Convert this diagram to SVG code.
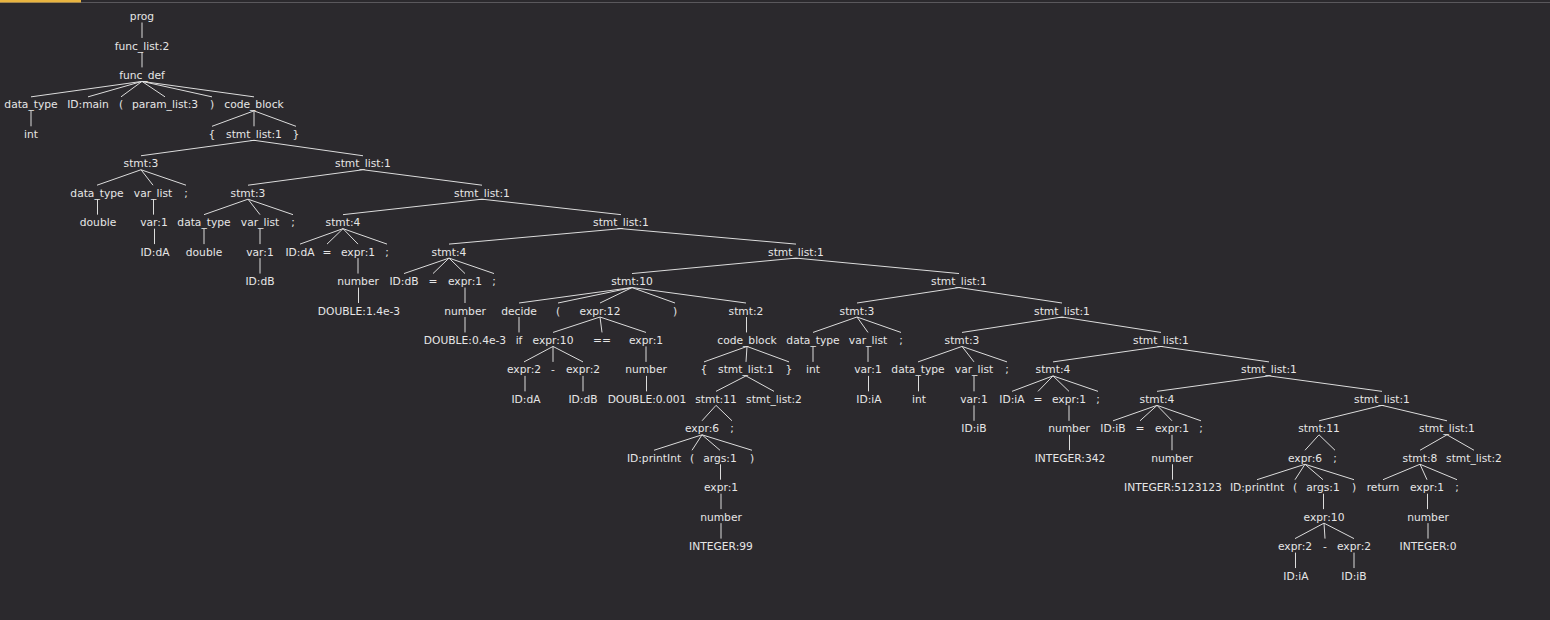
<svg xmlns="http://www.w3.org/2000/svg" width="1550" height="620" viewBox="0 0 1550 620">
<style>
.t{font-family:"DejaVu Sans",sans-serif;font-size:10.7px;fill:#e6e6e6;text-anchor:middle}
#edges line{stroke:#dcdcdc;stroke-width:1}
</style>
<rect x="0" y="0" width="1550" height="620" fill="#2b292d"/>
<line x1="0" y1="2.5" x2="1550" y2="2.5" stroke="#5a585c" stroke-width="1"/>
<rect x="0" y="0" width="81" height="2.5" fill="#e9b440"/>
<g id="edges">
<line x1="142" y1="22.5" x2="142" y2="37.95"/>
<line x1="142" y1="51.95" x2="142" y2="67.4"/>
<line x1="142" y1="81.4" x2="31" y2="96.85"/>
<line x1="142" y1="81.4" x2="88" y2="96.85"/>
<line x1="142" y1="81.4" x2="121" y2="96.85"/>
<line x1="142" y1="81.4" x2="165" y2="96.85"/>
<line x1="142" y1="81.4" x2="212" y2="96.85"/>
<line x1="142" y1="81.4" x2="254" y2="96.85"/>
<line x1="31" y1="110.85" x2="31" y2="126.3"/>
<line x1="254" y1="110.85" x2="212" y2="126.3"/>
<line x1="254" y1="110.85" x2="254" y2="126.3"/>
<line x1="254" y1="110.85" x2="296" y2="126.3"/>
<line x1="254" y1="140.3" x2="141" y2="155.75"/>
<line x1="254" y1="140.3" x2="363" y2="155.75"/>
<line x1="141" y1="169.75" x2="97" y2="185.2"/>
<line x1="141" y1="169.75" x2="153" y2="185.2"/>
<line x1="141" y1="169.75" x2="186" y2="185.2"/>
<line x1="363" y1="169.75" x2="248" y2="185.2"/>
<line x1="363" y1="169.75" x2="482" y2="185.2"/>
<line x1="97.5" y1="199.2" x2="97.5" y2="214.65"/>
<line x1="153.5" y1="199.2" x2="153.5" y2="214.65"/>
<line x1="248" y1="199.2" x2="204" y2="214.65"/>
<line x1="248" y1="199.2" x2="260" y2="214.65"/>
<line x1="248" y1="199.2" x2="293" y2="214.65"/>
<line x1="482" y1="199.2" x2="343" y2="214.65"/>
<line x1="482" y1="199.2" x2="621" y2="214.65"/>
<line x1="154.5" y1="228.65" x2="154.5" y2="244.1"/>
<line x1="204" y1="228.65" x2="204" y2="244.1"/>
<line x1="260" y1="228.65" x2="260" y2="244.1"/>
<line x1="343" y1="228.65" x2="300" y2="244.1"/>
<line x1="343" y1="228.65" x2="327" y2="244.1"/>
<line x1="343" y1="228.65" x2="358" y2="244.1"/>
<line x1="343" y1="228.65" x2="387" y2="244.1"/>
<line x1="621" y1="228.65" x2="449" y2="244.1"/>
<line x1="621" y1="228.65" x2="796" y2="244.1"/>
<line x1="260" y1="258.1" x2="260" y2="273.55"/>
<line x1="358" y1="258.1" x2="358" y2="273.55"/>
<line x1="449" y1="258.1" x2="404" y2="273.55"/>
<line x1="449" y1="258.1" x2="433" y2="273.55"/>
<line x1="449" y1="258.1" x2="465" y2="273.55"/>
<line x1="449" y1="258.1" x2="494" y2="273.55"/>
<line x1="796" y1="258.1" x2="632" y2="273.55"/>
<line x1="796" y1="258.1" x2="959" y2="273.55"/>
<line x1="358.5" y1="287.55" x2="358.5" y2="303"/>
<line x1="465" y1="287.55" x2="465" y2="303"/>
<line x1="632" y1="287.55" x2="519" y2="303"/>
<line x1="632" y1="287.55" x2="558" y2="303"/>
<line x1="632" y1="287.55" x2="600" y2="303"/>
<line x1="632" y1="287.55" x2="675" y2="303"/>
<line x1="632" y1="287.55" x2="746" y2="303"/>
<line x1="959" y1="287.55" x2="857" y2="303"/>
<line x1="959" y1="287.55" x2="1062" y2="303"/>
<line x1="465" y1="317" x2="465" y2="332.45"/>
<line x1="519" y1="317" x2="519" y2="332.45"/>
<line x1="600" y1="317" x2="553" y2="332.45"/>
<line x1="600" y1="317" x2="602" y2="332.45"/>
<line x1="600" y1="317" x2="646" y2="332.45"/>
<line x1="746.5" y1="317" x2="746.5" y2="332.45"/>
<line x1="857" y1="317" x2="813" y2="332.45"/>
<line x1="857" y1="317" x2="868" y2="332.45"/>
<line x1="857" y1="317" x2="901" y2="332.45"/>
<line x1="1062" y1="317" x2="962" y2="332.45"/>
<line x1="1062" y1="317" x2="1161" y2="332.45"/>
<line x1="553" y1="346.45" x2="524" y2="361.9"/>
<line x1="553" y1="346.45" x2="553" y2="361.9"/>
<line x1="553" y1="346.45" x2="583" y2="361.9"/>
<line x1="646" y1="346.45" x2="646" y2="361.9"/>
<line x1="747" y1="346.45" x2="704" y2="361.9"/>
<line x1="747" y1="346.45" x2="746" y2="361.9"/>
<line x1="747" y1="346.45" x2="789" y2="361.9"/>
<line x1="813" y1="346.45" x2="813" y2="361.9"/>
<line x1="868" y1="346.45" x2="868" y2="361.9"/>
<line x1="962" y1="346.45" x2="918" y2="361.9"/>
<line x1="962" y1="346.45" x2="974" y2="361.9"/>
<line x1="962" y1="346.45" x2="1007" y2="361.9"/>
<line x1="1161" y1="346.45" x2="1053" y2="361.9"/>
<line x1="1161" y1="346.45" x2="1269" y2="361.9"/>
<line x1="525" y1="375.9" x2="525" y2="391.35"/>
<line x1="583" y1="375.9" x2="583" y2="391.35"/>
<line x1="646.5" y1="375.9" x2="646.5" y2="391.35"/>
<line x1="746" y1="375.9" x2="716" y2="391.35"/>
<line x1="746" y1="375.9" x2="774" y2="391.35"/>
<line x1="868.5" y1="375.9" x2="868.5" y2="391.35"/>
<line x1="918.5" y1="375.9" x2="918.5" y2="391.35"/>
<line x1="974" y1="375.9" x2="974" y2="391.35"/>
<line x1="1053" y1="375.9" x2="1012" y2="391.35"/>
<line x1="1053" y1="375.9" x2="1038" y2="391.35"/>
<line x1="1053" y1="375.9" x2="1069" y2="391.35"/>
<line x1="1053" y1="375.9" x2="1098" y2="391.35"/>
<line x1="1269" y1="375.9" x2="1157" y2="391.35"/>
<line x1="1269" y1="375.9" x2="1382" y2="391.35"/>
<line x1="716" y1="405.35" x2="702" y2="420.8"/>
<line x1="716" y1="405.35" x2="732" y2="420.8"/>
<line x1="974" y1="405.35" x2="974" y2="420.8"/>
<line x1="1069" y1="405.35" x2="1069" y2="420.8"/>
<line x1="1157" y1="405.35" x2="1113" y2="420.8"/>
<line x1="1157" y1="405.35" x2="1140" y2="420.8"/>
<line x1="1157" y1="405.35" x2="1172" y2="420.8"/>
<line x1="1157" y1="405.35" x2="1201" y2="420.8"/>
<line x1="1382" y1="405.35" x2="1319" y2="420.8"/>
<line x1="1382" y1="405.35" x2="1447" y2="420.8"/>
<line x1="702" y1="434.8" x2="654" y2="450.25"/>
<line x1="702" y1="434.8" x2="692" y2="450.25"/>
<line x1="702" y1="434.8" x2="720" y2="450.25"/>
<line x1="702" y1="434.8" x2="752" y2="450.25"/>
<line x1="1069.5" y1="434.8" x2="1069.5" y2="450.25"/>
<line x1="1172" y1="434.8" x2="1172" y2="450.25"/>
<line x1="1319" y1="434.8" x2="1305" y2="450.25"/>
<line x1="1319" y1="434.8" x2="1335" y2="450.25"/>
<line x1="1447" y1="434.8" x2="1420" y2="450.25"/>
<line x1="1447" y1="434.8" x2="1474" y2="450.25"/>
<line x1="720.5" y1="464.25" x2="720.5" y2="479.7"/>
<line x1="1172.5" y1="464.25" x2="1172.5" y2="479.7"/>
<line x1="1305" y1="464.25" x2="1257" y2="479.7"/>
<line x1="1305" y1="464.25" x2="1295" y2="479.7"/>
<line x1="1305" y1="464.25" x2="1323" y2="479.7"/>
<line x1="1305" y1="464.25" x2="1354" y2="479.7"/>
<line x1="1420" y1="464.25" x2="1383" y2="479.7"/>
<line x1="1420" y1="464.25" x2="1427" y2="479.7"/>
<line x1="1420" y1="464.25" x2="1457" y2="479.7"/>
<line x1="721" y1="493.7" x2="721" y2="509.15"/>
<line x1="1323.5" y1="493.7" x2="1323.5" y2="509.15"/>
<line x1="1427.5" y1="493.7" x2="1427.5" y2="509.15"/>
<line x1="721" y1="523.15" x2="721" y2="538.6"/>
<line x1="1324" y1="523.15" x2="1295" y2="538.6"/>
<line x1="1324" y1="523.15" x2="1325" y2="538.6"/>
<line x1="1324" y1="523.15" x2="1354" y2="538.6"/>
<line x1="1428" y1="523.15" x2="1428" y2="538.6"/>
<line x1="1295.5" y1="552.6" x2="1295.5" y2="568.05"/>
<line x1="1354" y1="552.6" x2="1354" y2="568.05"/>
</g>
<g id="n0"><text class="t" x="142" y="20">prog</text></g>
<g id="n1"><text class="t" x="142" y="49.5">func_list:2</text></g>
<g id="n2"><text class="t" x="142" y="78.9">func_def</text></g>
<g id="n3"><text class="t" x="31" y="108.4">data_type</text></g>
<g id="n4"><text class="t" x="88" y="108.4">ID:main</text></g>
<g id="n5"><text class="t" x="121" y="108.4">(</text></g>
<g id="n6"><text class="t" x="165" y="108.4">param_list:3</text></g>
<g id="n7"><text class="t" x="212" y="108.4">)</text></g>
<g id="n8"><text class="t" x="254" y="108.4">code_block</text></g>
<g id="n9"><text class="t" x="31" y="137.8">int</text></g>
<g id="n10"><text class="t" x="212" y="137.8">{</text></g>
<g id="n11"><text class="t" x="254" y="137.8">stmt_list:1</text></g>
<g id="n12"><text class="t" x="296" y="137.8">}</text></g>
<g id="n13"><text class="t" x="141" y="167.3">stmt:3</text></g>
<g id="n14"><text class="t" x="363" y="167.3">stmt_list:1</text></g>
<g id="n15"><text class="t" x="97" y="196.7">data_type</text></g>
<g id="n16"><text class="t" x="153" y="196.7">var_list</text></g>
<g id="n17"><text class="t" x="186" y="196.7">;</text></g>
<g id="n18"><text class="t" x="248" y="196.7">stmt:3</text></g>
<g id="n19"><text class="t" x="482" y="196.7">stmt_list:1</text></g>
<g id="n20"><text class="t" x="98" y="226.2">double</text></g>
<g id="n21"><text class="t" x="154" y="226.2">var:1</text></g>
<g id="n22"><text class="t" x="204" y="226.2">data_type</text></g>
<g id="n23"><text class="t" x="260" y="226.2">var_list</text></g>
<g id="n24"><text class="t" x="293" y="226.2">;</text></g>
<g id="n25"><text class="t" x="343" y="226.2">stmt:4</text></g>
<g id="n26"><text class="t" x="621" y="226.2">stmt_list:1</text></g>
<g id="n27"><text class="t" x="155" y="255.6">ID:dA</text></g>
<g id="n28"><text class="t" x="204" y="255.6">double</text></g>
<g id="n29"><text class="t" x="260" y="255.6">var:1</text></g>
<g id="n30"><text class="t" x="300" y="255.6">ID:dA</text></g>
<g id="n31"><text class="t" x="327" y="255.6">=</text></g>
<g id="n32"><text class="t" x="358" y="255.6">expr:1</text></g>
<g id="n33"><text class="t" x="387" y="255.6">;</text></g>
<g id="n34"><text class="t" x="449" y="255.6">stmt:4</text></g>
<g id="n35"><text class="t" x="796" y="255.6">stmt_list:1</text></g>
<g id="n36"><text class="t" x="260" y="285.1">ID:dB</text></g>
<g id="n37"><text class="t" x="358" y="285.1">number</text></g>
<g id="n38"><text class="t" x="404" y="285.1">ID:dB</text></g>
<g id="n39"><text class="t" x="433" y="285.1">=</text></g>
<g id="n40"><text class="t" x="465" y="285.1">expr:1</text></g>
<g id="n41"><text class="t" x="494" y="285.1">;</text></g>
<g id="n42"><text class="t" x="632" y="285.1">stmt:10</text></g>
<g id="n43"><text class="t" x="959" y="285.1">stmt_list:1</text></g>
<g id="n44"><text class="t" x="359" y="314.5">DOUBLE:1.4e-3</text></g>
<g id="n45"><text class="t" x="465" y="314.5">number</text></g>
<g id="n46"><text class="t" x="519" y="314.5">decide</text></g>
<g id="n47"><text class="t" x="558" y="314.5">(</text></g>
<g id="n48"><text class="t" x="600" y="314.5">expr:12</text></g>
<g id="n49"><text class="t" x="675" y="314.5">)</text></g>
<g id="n50"><text class="t" x="746" y="314.5">stmt:2</text></g>
<g id="n51"><text class="t" x="857" y="314.5">stmt:3</text></g>
<g id="n52"><text class="t" x="1062" y="314.5">stmt_list:1</text></g>
<g id="n53"><text class="t" x="465" y="344">DOUBLE:0.4e-3</text></g>
<g id="n54"><text class="t" x="519" y="344">if</text></g>
<g id="n55"><text class="t" x="553" y="344">expr:10</text></g>
<g id="n56"><text class="t" x="602" y="344">==</text></g>
<g id="n57"><text class="t" x="646" y="344">expr:1</text></g>
<g id="n58"><text class="t" x="747" y="344">code_block</text></g>
<g id="n59"><text class="t" x="813" y="344">data_type</text></g>
<g id="n60"><text class="t" x="868" y="344">var_list</text></g>
<g id="n61"><text class="t" x="901" y="344">;</text></g>
<g id="n62"><text class="t" x="962" y="344">stmt:3</text></g>
<g id="n63"><text class="t" x="1161" y="344">stmt_list:1</text></g>
<g id="n64"><text class="t" x="524" y="373.4">expr:2</text></g>
<g id="n65"><text class="t" x="553" y="373.4">-</text></g>
<g id="n66"><text class="t" x="583" y="373.4">expr:2</text></g>
<g id="n67"><text class="t" x="646" y="373.4">number</text></g>
<g id="n68"><text class="t" x="704" y="373.4">{</text></g>
<g id="n69"><text class="t" x="746" y="373.4">stmt_list:1</text></g>
<g id="n70"><text class="t" x="789" y="373.4">}</text></g>
<g id="n71"><text class="t" x="813" y="373.4">int</text></g>
<g id="n72"><text class="t" x="868" y="373.4">var:1</text></g>
<g id="n73"><text class="t" x="918" y="373.4">data_type</text></g>
<g id="n74"><text class="t" x="974" y="373.4">var_list</text></g>
<g id="n75"><text class="t" x="1007" y="373.4">;</text></g>
<g id="n76"><text class="t" x="1053" y="373.4">stmt:4</text></g>
<g id="n77"><text class="t" x="1269" y="373.4">stmt_list:1</text></g>
<g id="n78"><text class="t" x="526" y="402.9">ID:dA</text></g>
<g id="n79"><text class="t" x="583" y="402.9">ID:dB</text></g>
<g id="n80"><text class="t" x="647" y="402.9">DOUBLE:0.001</text></g>
<g id="n81"><text class="t" x="716" y="402.9">stmt:11</text></g>
<g id="n82"><text class="t" x="774" y="402.9">stmt_list:2</text></g>
<g id="n83"><text class="t" x="869" y="402.9">ID:iA</text></g>
<g id="n84"><text class="t" x="919" y="402.9">int</text></g>
<g id="n85"><text class="t" x="974" y="402.9">var:1</text></g>
<g id="n86"><text class="t" x="1012" y="402.9">ID:iA</text></g>
<g id="n87"><text class="t" x="1038" y="402.9">=</text></g>
<g id="n88"><text class="t" x="1069" y="402.9">expr:1</text></g>
<g id="n89"><text class="t" x="1098" y="402.9">;</text></g>
<g id="n90"><text class="t" x="1157" y="402.9">stmt:4</text></g>
<g id="n91"><text class="t" x="1382" y="402.9">stmt_list:1</text></g>
<g id="n92"><text class="t" x="702" y="432.3">expr:6</text></g>
<g id="n93"><text class="t" x="732" y="432.3">;</text></g>
<g id="n94"><text class="t" x="974" y="432.3">ID:iB</text></g>
<g id="n95"><text class="t" x="1069" y="432.3">number</text></g>
<g id="n96"><text class="t" x="1113" y="432.3">ID:iB</text></g>
<g id="n97"><text class="t" x="1140" y="432.3">=</text></g>
<g id="n98"><text class="t" x="1172" y="432.3">expr:1</text></g>
<g id="n99"><text class="t" x="1201" y="432.3">;</text></g>
<g id="n100"><text class="t" x="1319" y="432.3">stmt:11</text></g>
<g id="n101"><text class="t" x="1447" y="432.3">stmt_list:1</text></g>
<g id="n102"><text class="t" x="654" y="461.8">ID:printInt</text></g>
<g id="n103"><text class="t" x="692" y="461.8">(</text></g>
<g id="n104"><text class="t" x="720" y="461.8">args:1</text></g>
<g id="n105"><text class="t" x="752" y="461.8">)</text></g>
<g id="n106"><text class="t" x="1070" y="461.8">INTEGER:342</text></g>
<g id="n107"><text class="t" x="1172" y="461.8">number</text></g>
<g id="n108"><text class="t" x="1305" y="461.8">expr:6</text></g>
<g id="n109"><text class="t" x="1335" y="461.8">;</text></g>
<g id="n110"><text class="t" x="1420" y="461.8">stmt:8</text></g>
<g id="n111"><text class="t" x="1474" y="461.8">stmt_list:2</text></g>
<g id="n112"><text class="t" x="721" y="491.2">expr:1</text></g>
<g id="n113"><text class="t" x="1173" y="491.2">INTEGER:5123123</text></g>
<g id="n114"><text class="t" x="1257" y="491.2">ID:printInt</text></g>
<g id="n115"><text class="t" x="1295" y="491.2">(</text></g>
<g id="n116"><text class="t" x="1323" y="491.2">args:1</text></g>
<g id="n117"><text class="t" x="1354" y="491.2">)</text></g>
<g id="n118"><text class="t" x="1383" y="491.2">return</text></g>
<g id="n119"><text class="t" x="1427" y="491.2">expr:1</text></g>
<g id="n120"><text class="t" x="1457" y="491.2">;</text></g>
<g id="n121"><text class="t" x="721" y="520.7">number</text></g>
<g id="n122"><text class="t" x="1324" y="520.7">expr:10</text></g>
<g id="n123"><text class="t" x="1428" y="520.7">number</text></g>
<g id="n124"><text class="t" x="721" y="550.1">INTEGER:99</text></g>
<g id="n125"><text class="t" x="1295" y="550.1">expr:2</text></g>
<g id="n126"><text class="t" x="1325" y="550.1">-</text></g>
<g id="n127"><text class="t" x="1354" y="550.1">expr:2</text></g>
<g id="n128"><text class="t" x="1428" y="550.1">INTEGER:0</text></g>
<g id="n129"><text class="t" x="1296" y="579.6">ID:iA</text></g>
<g id="n130"><text class="t" x="1354" y="579.6">ID:iB</text></g>
</svg>
